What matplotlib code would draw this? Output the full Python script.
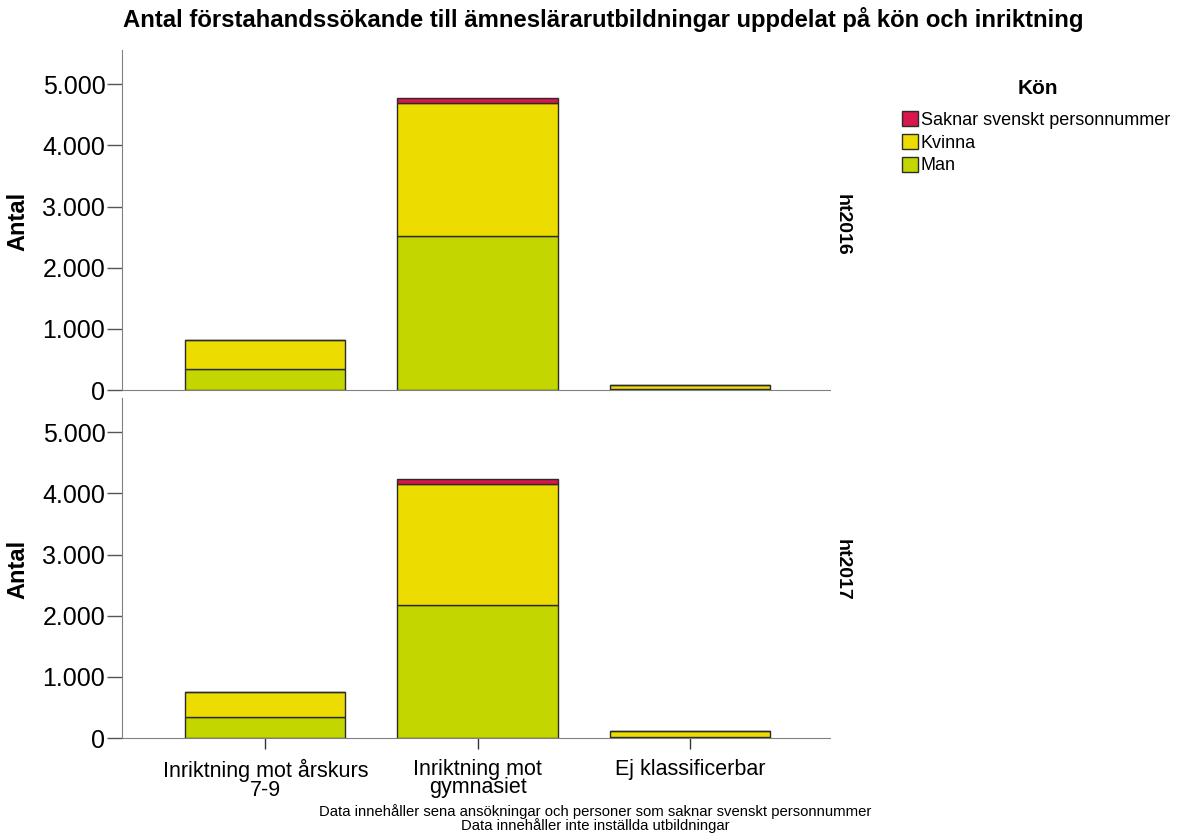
import matplotlib
matplotlib.use("Agg")
import matplotlib.pyplot as plt
from matplotlib.patches import Patch
from matplotlib.ticker import FuncFormatter

categories = ["Inriktning mot årskurs\n7-9", "Inriktning mot\ngymnasiet", "Ej klassificerbar"]
panels = ["ht2016", "ht2017"]
man = {"ht2016": [344, 2525, 15], "ht2017": [342, 2182, 10]}
kvinna = {"ht2016": [476, 2165, 60], "ht2017": [407, 1971, 100]}
saknar = {"ht2016": [0, 80, 3], "ht2017": [0, 82, 3]}
series_labels = ["Saknar svenskt personnummer", "Kvinna", "Man"]
yticks = [0, 1000, 2000, 3000, 4000, 5000]

c_man = "#c4d600"
c_kv = "#ecdc00"
c_sak = "#d8174a"
edge = "#2b2b2b"

plt.rcParams['font.family'] = ['Liberation Sans', 'DejaVu Sans']

fig = plt.figure(figsize=(11.9, 8.39), dpi=100)
W, H = 1190, 839

def ax_rect(x0, y0, x1, y1):
    return [x0 / W, 1 - y1 / H, (x1 - x0) / W, (y1 - y0) / H]

axes = [fig.add_axes(ax_rect(122, 50, 830, 390)),
        fig.add_axes(ax_rect(122, 398, 830, 738))]

x = list(range(len(categories)))
fmt = FuncFormatter(lambda v, p: f"{int(v):,}".replace(",", "."))
facet_y = [225, 570]
ylab_y = [221, 569]

for i, (ax, pn) in enumerate(zip(axes, panels)):
    m = man[pn]; k = kvinna[pn]; s = saknar[pn]
    bw = 0.755
    ax.bar(x, m, width=bw, color=c_man, edgecolor=edge, linewidth=1.0, zorder=2)
    ax.bar(x, k, width=bw, bottom=m, color=c_kv, edgecolor=edge, linewidth=1.0, zorder=2)
    ax.bar(x, s, width=bw, bottom=[a + b for a, b in zip(m, k)], color=c_sak,
           edgecolor=edge, linewidth=1.0, zorder=2)
    ax.set_xlim(-0.675, 2.66)
    ax.set_ylim(0, 5560)
    ax.set_yticks(yticks)
    ax.yaxis.set_major_formatter(fmt)
    ax.tick_params(axis='y', labelsize=18, length=10.5, width=1, color="#555555", pad=1.5)
    for sp in ["top", "right"]:
        ax.spines[sp].set_visible(False)
    ax.spines["left"].set_color("#808080")
    ax.spines["bottom"].set_color("#808080")
    fig.text(18 / W, 1 - ylab_y[i] / H, "Antal", rotation=90, fontsize=17,
             fontweight="bold", va="center", ha="center")
    fig.text(834 / W, 1 - facet_y[i] / H, pn, rotation=-90, fontsize=14,
             fontweight="bold", va="center", ha="left")
    if i == 0:
        ax.set_xticks([])
    else:
        ax.set_xticks(x)
        ax.set_xticklabels(categories, fontsize=15.5, linespacing=0.85)
        ax.tick_params(axis='x', length=8, width=1, color="#333333", pad=7)

fig.text(603 / W, 1 - 20 / H, "Antal förstahandssökande till ämneslärarutbildningar uppdelat på kön och inriktning",
         ha="center", va="center", fontsize=17.2, fontweight="bold")

handles = [Patch(facecolor=c_sak, edgecolor=edge),
           Patch(facecolor=c_kv, edgecolor=edge),
           Patch(facecolor=c_man, edgecolor=edge)]
fig.text(1038 / W, 1 - 88 / H, "Kön", ha="center", va="center", fontsize=15, fontweight="bold")
leg = fig.legend(handles, series_labels, loc="upper left", bbox_to_anchor=(902 / W, 1 - 111 / H),
                 frameon=False, fontsize=13, handlelength=0.9, handleheight=0.9,
                 handletextpad=0.15, labelspacing=0.28, borderpad=0, borderaxespad=0)

fig.text(595 / W, 1 - 812 / H, "Data innehåller sena ansökningar och personer som saknar svenskt personnummer",
         ha="center", va="center", fontsize=10.7, family=['Liberation Sans Narrow', 'Liberation Sans'])
fig.text(595 / W, 1 - 826 / H, "Data innehåller inte inställda utbildningar",
         ha="center", va="center", fontsize=10.7, family=['Liberation Sans Narrow', 'Liberation Sans'])

fig.savefig("out.png", dpi=100)
